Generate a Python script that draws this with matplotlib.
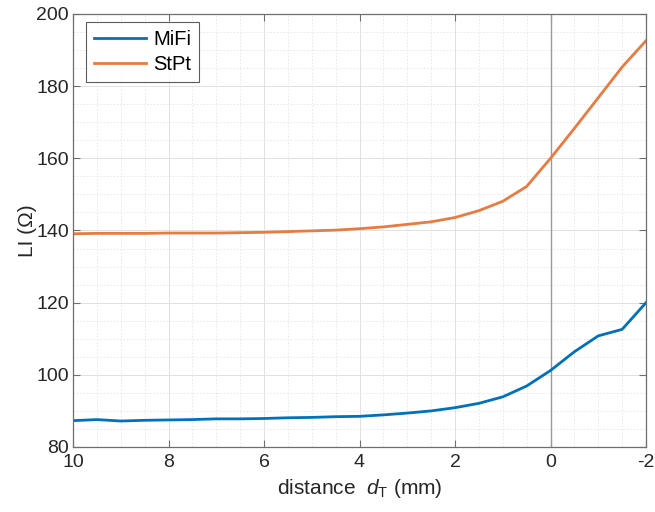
import matplotlib
matplotlib.use("Agg")
import matplotlib.pyplot as plt
from matplotlib.ticker import MultipleLocator

plt.rcParams['font.family'] = ['Liberation Sans', 'DejaVu Sans']
plt.rcParams['mathtext.fontset'] = 'custom'
plt.rcParams['mathtext.it'] = 'Liberation Sans:italic'
plt.rcParams['mathtext.rm'] = 'Liberation Sans'
plt.rcParams['axes.unicode_minus'] = False

distance = [10, 9.5, 9, 8.5, 8, 7.5, 7, 6.5, 6, 5.5, 5, 4.5, 4, 3.5, 3, 2.5,
            2, 1.5, 1, 0.5, 0, -0.5, -1, -1.5, -2]
mifi = [87.3, 87.6, 87.2, 87.4, 87.5, 87.6, 87.8, 87.8, 87.9, 88.1, 88.2, 88.4,
        88.5, 88.9, 89.4, 90.0, 90.9, 92.1, 93.9, 96.9, 101.2, 106.4, 110.8,
        112.6, 120.0]
stpt = [139.1, 139.2, 139.2, 139.2, 139.3, 139.3, 139.3, 139.4, 139.5, 139.7,
        139.9, 140.1, 140.5, 141.0, 141.7, 142.4, 143.6, 145.5, 148.1, 152.2,
        160.0, 168.3, 176.8, 185.3, 192.6]
series_names = ["MiFi", "StPt"]
xticks = [10, 8, 6, 4, 2, 0, -2]
yticks = [80, 100, 120, 140, 160, 180, 200]

fig = plt.figure(figsize=(6.55, 5.12), dpi=100)
ax = fig.add_axes([73/655, 65/512, 573/655, 433/512])

ax.set_xlim(10, -2)
ax.set_ylim(80, 200)
ax.set_xticks(xticks)
ax.set_yticks(yticks)
ax.xaxis.set_minor_locator(MultipleLocator(0.5))
ax.yaxis.set_minor_locator(MultipleLocator(5))

ax.grid(which='major', color='#dcdcdc', linestyle='-', linewidth=0.6)
ax.grid(which='minor', color='#e6e6e6', linestyle=(0, (2, 2)), linewidth=0.6)
ax.set_axisbelow(True)

ax.axvline(0, color='#9a9a9a', linewidth=1.0, zorder=1.5)

ax.plot(distance, mifi, color='#0072BD', linewidth=2.0, label=series_names[0])
ax.plot(distance, stpt, color='#E97A40', linewidth=2.0, label=series_names[1])

for s in ax.spines.values():
    s.set_color('#6e6e6e')
    s.set_linewidth(0.9)
ax.tick_params(which='both', direction='in', top=True, right=True,
               colors='#6e6e6e', labelcolor='#262626', labelsize=14)
ax.tick_params(which='major', length=5)
ax.tick_params(which='minor', length=0)
ax.tick_params(axis='x', pad=5)
ax.tick_params(axis='y', pad=3)

ax.set_xlabel(r'distance  $d_{\mathrm{T}}$ (mm)', fontsize=15, color='#262626',
              labelpad=4)
ax.set_ylabel('LI (Ω)', fontsize=15, color='#262626')
ax.yaxis.set_label_coords(-0.062, 0.5)

leg = ax.legend(loc='upper left', bbox_to_anchor=(0.012, 0.995), fontsize=14.5,
                frameon=True, fancybox=False, edgecolor='#333333',
                handlelength=2.6, borderpad=0.4, labelspacing=0.3,
                handletextpad=0.35, borderaxespad=0.3)
leg.get_frame().set_linewidth(0.8)

fig.savefig('out.png', dpi=100)
